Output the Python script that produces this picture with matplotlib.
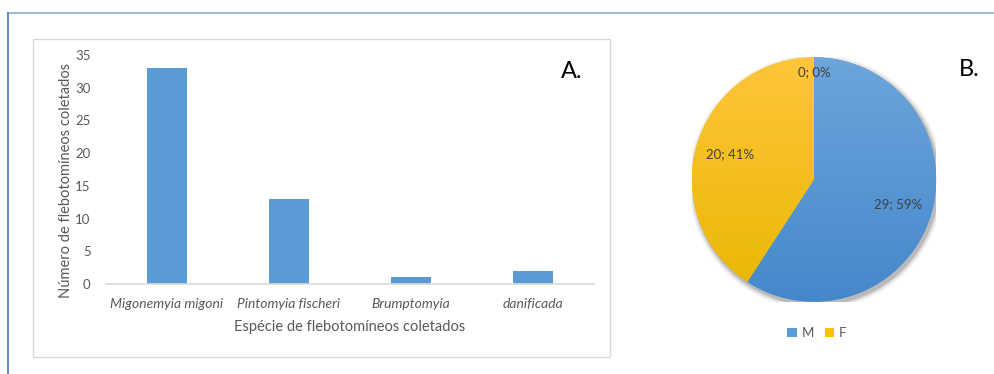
import matplotlib
matplotlib.use("Agg")
import matplotlib.pyplot as plt
import numpy as np
from matplotlib.lines import Line2D
from matplotlib.patches import Rectangle, Circle, Patch
from matplotlib.colors import LinearSegmentedColormap

# ---------------- data ----------------
species = ["Migonemyia migoni", "Pintomyia fischeri", "Brumptomyia", "danificada"]
counts = [33, 13, 1, 2]
yticks = [0, 5, 10, 15, 20, 25, 30, 35]

sex_labels = ["M", "F", ""]
sex_counts = [29, 20, 0]

plt.rcParams['font.family'] = ['Lato', 'DejaVu Sans']

W, H = 995, 374
fig = plt.figure(figsize=(W / 100, H / 100), dpi=100)
fig.patch.set_facecolor('white')

def fx(px):
    return px / W

def fy(py):
    return 1 - py / H

# outer frame lines
fig.add_artist(Line2D([fx(8), fx(995)], [fy(13), fy(13)], color='#9AB0D8', lw=1.3))
fig.add_artist(Line2D([fx(8), fx(8)], [fy(13), fy(374)], color='#5B7DBE', lw=1.3))

# panel A box
fig.add_artist(Rectangle((fx(33), fy(357)), fx(610) - fx(33), fy(39) - fy(357),
                         transform=fig.transFigure, fill=False, edgecolor='#D9D9D9', lw=1.0))

# ---------------- bar chart ----------------
axL, axR, axT, axB = 106, 594, 55, 284
ax = fig.add_axes([fx(axL), fy(axB), fx(axR) - fx(axL), fy(axT) - fy(axB)])
x = np.arange(len(species))
ax.bar(x, counts, width=0.32, color='#5B9BD5', zorder=2)
ax.set_xlim(-0.5, len(species) - 0.5)
ax.set_ylim(0, 35)
ax.set_yticks(yticks)
ax.set_xticks(x)
ax.set_xticklabels(species, fontstyle='italic', fontsize=10, color='#595959')
ax.tick_params(axis='y', length=0, pad=11, labelsize=9.5, labelcolor='#595959')
ax.tick_params(axis='x', length=0, pad=10)
for s in ['top', 'right', 'left']:
    ax.spines[s].set_visible(False)
ax.spines['bottom'].set_color('#D9D9D9')
ax.spines['bottom'].set_linewidth(1.2)
ax.set_xlabel("Espécie de flebotomíneos coletados", fontsize=10.5, color='#595959', labelpad=7)
ax.set_ylabel("Número de flebotomíneos coletados", fontsize=10.5, color='#595959')
ax.yaxis.set_label_coords(-0.068, 0.454)
fig.text(fx(572), fy(71), "A.", fontsize=17, color='black', ha='center', va='center')

# ---------------- pie chart ----------------
cx, cy, r = 814, 179.5, 122.2
pax = fig.add_axes([fx(cx - r), fy(cy + r), fx(2 * r), fy(cy - r) - fy(cy + r)])
total = sum(sex_counts)

def fmt(pct):
    v = int(round(pct * total / 100.0))
    return f"{v}; {pct:.0f}%"

base_cols = ['#5B9BD5', '#FFC000', '#A5A5A5']
wedges, texts, autotexts = pax.pie(sex_counts, colors=base_cols, startangle=90, counterclock=False,
                                   autopct=fmt, pctdistance=0.72, radius=1.0,
                                   textprops=dict(fontsize=9.5, color='#404040'),
                                   wedgeprops=dict(linewidth=0))
# soft shadow
for dr, a in [(0.045, 0.04), (0.032, 0.06), (0.02, 0.08), (0.01, 0.12)]:
    sh = Circle((0.015, -0.022), 1.0 + dr, color='black', alpha=a, lw=0, zorder=0)
    pax.add_patch(sh)

grads = [('#6DA6DC', '#4487CA'), ('#FFC63C', '#E8B700'), ('#A5A5A5', '#A5A5A5')]
for w, (top, bot) in zip(wedges, grads):
    w.set_zorder(1)
    cmap = LinearSegmentedColormap.from_list('g', [bot, top])
    grad = np.linspace(0, 1, 256).reshape(-1, 1)
    im = pax.imshow(grad, extent=(-1.05, 1.05, -1.05, 1.05), origin='lower', cmap=cmap,
                    aspect='auto', zorder=1.5, interpolation='bilinear')
    im.set_clip_path(w)

for t, v in zip(autotexts, sex_counts):
    t.set_zorder(3)
    if v == 0:
        x0, y0 = t.get_position()
        t.set_position((x0 / 0.72 * 0.88, y0 / 0.72 * 0.88))

pax.set_xlim(-1, 1)
pax.set_ylim(-1, 1)
pax.set_aspect('auto')
pax.axis('off')

fig.text(fx(969), fy(70), "B.", fontsize=17, color='black', ha='center', va='center')

handles = [Patch(facecolor=c, edgecolor='none') for c in ['#5B9BD5', '#FFC000']]
fig.legend(handles, sex_labels[:2], loc='center', bbox_to_anchor=(fx(817), fy(333)), ncol=2,
           frameon=False, handlelength=0.7, handleheight=0.7, handletextpad=0.4,
           columnspacing=0.8, fontsize=9.5, labelcolor='#595959')

fig.savefig("out.png", dpi=100, facecolor='white')
